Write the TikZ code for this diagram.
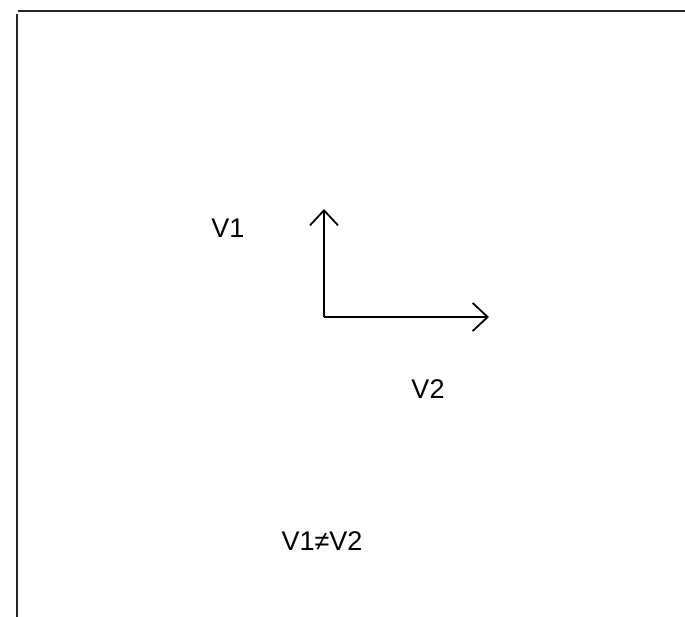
\documentclass[tikz,border=0pt]{standalone}
\usepackage{fontspec}
\setmainfont{Liberation Sans}
\usepackage{tikz}
\usetikzlibrary{arrows.meta, positioning}

\begin{document}
\begin{tikzpicture}[x=1pt, y=-1pt, >={Straight Barb[length=15pt, width=28pt, line width=1.8pt]},
  line width=2pt, font=\fontsize{27}{30}\selectfont,
  lbl/.style={inner sep=0pt}]
  \useasboundingbox (0,0) rectangle (685,617);

  % Okraj (horní a levá linka)
  \draw[black!85, line width=2.2pt] (18,11) -- (685,11);
  \draw[black!85, line width=2.2pt] (17,14) -- (17,617);

  % Vektory
  \coordinate (o) at (324,317);
  \coordinate (v1tip) at (324,209);
  \coordinate (v2tip) at (489,317);
  \draw[->] (o) -- (v1tip);
  \draw[->] (o) -- (v2tip);

  % Popisky
  \node[lbl] (v1) at (228,228) {V1};
  \node[lbl] (v2) at (428,389) {V2};
  \node[lbl] (neq) at (322,541) {V1≠V2};
\end{tikzpicture}
\end{document}
